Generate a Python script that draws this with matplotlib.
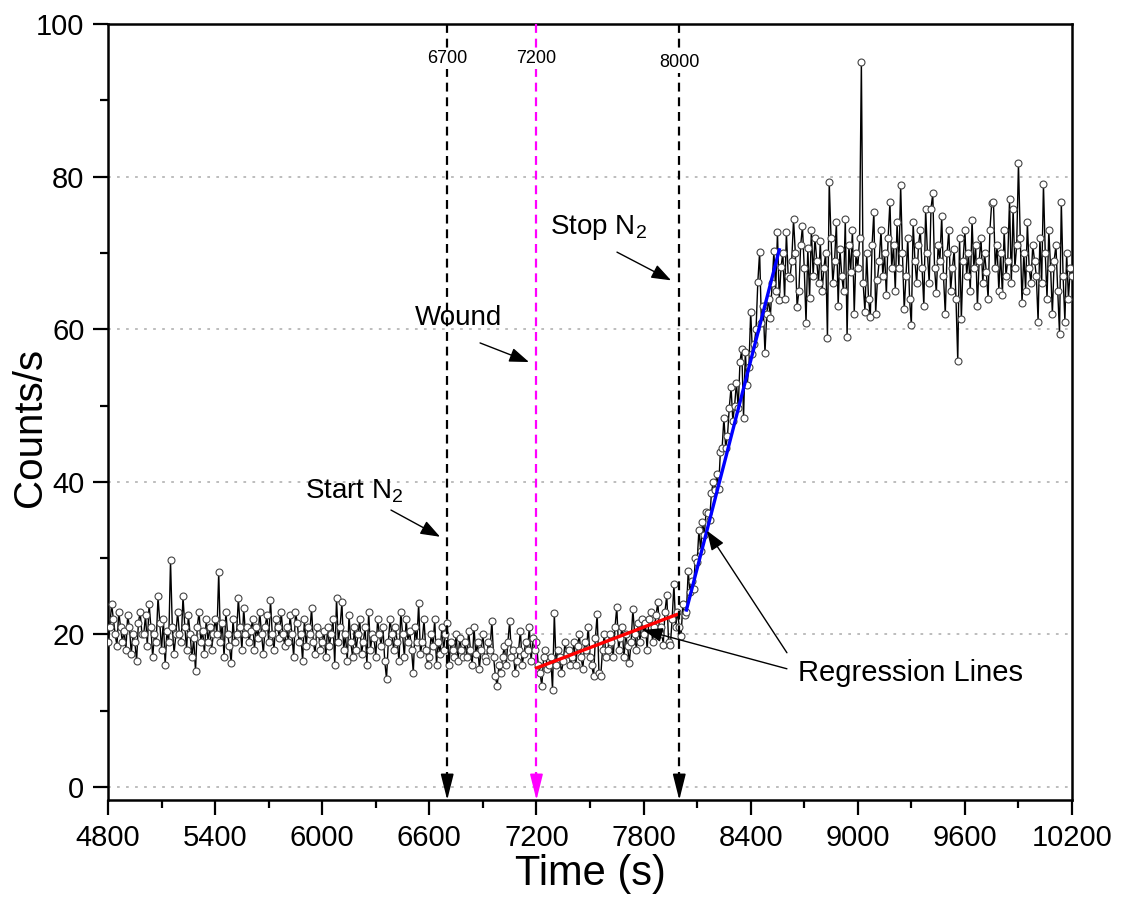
import numpy as np
import matplotlib
matplotlib.use("Agg")
import matplotlib.pyplot as plt
from matplotlib.patches import ArrowStyle

plt.rcParams["font.family"] = ["Liberation Sans", "DejaVu Sans"]
plt.rcParams["mathtext.fontset"] = "custom"
plt.rcParams["mathtext.rm"] = "Liberation Sans"

# Count rate sampled every 10 s, from 4800 s to 10200 s
t_start, t_step = 4800, 10
counts = [
    # 4800-4990
    19, 21, 24, 22, 20, 18.5, 23, 21, 19, 20.5, 18, 22.5, 21, 17.5, 20, 19, 16.5, 21.5, 23, 20,
    # 5000-5190
    20, 22.5, 18.5, 24, 21, 17, 20, 19, 25, 21.5, 18, 22, 16, 20.5, 19, 29.7, 21, 17.5, 20, 23,
    # 5200-5390
    20, 19, 25, 21, 18, 22.5, 20, 17, 19.5, 15.2, 21, 23, 19, 20.5, 17.5, 22, 19, 21, 18, 20,
    # 5400-5590
    22, 20, 28.2, 19, 21.5, 17, 23, 20, 18.5, 16.2, 22, 19, 20, 24.8, 21, 18, 23.5, 20, 21, 19,
    # 5600-5790
    20.5, 22, 18, 21, 19.5, 23, 20, 17.5, 21, 22.5, 19, 24.5, 20, 18, 22, 21, 19.5, 23, 20, 18.5,
    # 5800-5990
    21, 19, 22.5, 20, 17, 23, 21.5, 19, 20, 16.5, 22, 18.5, 21, 20, 23.5, 19, 17.5, 21, 20, 18,
    # 6000-6190
    19, 20.5, 17, 21, 18.5, 20, 22, 16, 24.8, 19, 21, 24.2, 18, 20, 16.5, 22.5, 19, 17, 21, 18,
    # 6200-6390
    20, 22, 17.5, 19, 21, 16, 23, 18, 20, 19.5, 17, 22, 20, 18.5, 21, 16.5, 14.2, 19, 22, 20,
    # 6400-6590
    18, 21, 19, 16.5, 23, 20, 17, 22, 19, 20.5, 18, 15, 21, 19, 24.1, 17.5, 19, 22, 18, 16,
    # 6600-6790
    17, 20, 18.5, 22, 16, 19, 17.5, 21, 18, 20, 21.5, 16, 19, 18, 17, 20, 16.5, 19.5, 18, 17,
    # 6800-6990
    19, 17, 20.5, 18, 16, 21, 17.5, 19, 15.5, 18, 20, 17, 16.5, 19, 18, 21.8, 17, 14.5, 13.2, 16,
    # 7000-7190
    15, 17, 18.5, 16, 19, 21.8, 17, 18, 15, 16.5, 18, 20.5, 16, 17.5, 19, 18, 21, 16.5, 19.5, 18,
    # 7200-7390
    19, 16, 15, 13.2, 17, 18, 15.5, 16, 17, 12.7, 22.8, 16, 18, 17, 15, 16.5, 19, 17.5, 18, 16,
    # 7400-7590
    17, 19, 16, 18.5, 20, 17, 15.5, 19, 18, 21, 17, 16, 14.5, 19.5, 22.7, 15, 14.5, 18, 20, 17,
    # 7600-7790
    18, 20, 19, 17, 21, 23.6, 18, 19.5, 21, 17, 20, 18.5, 16.3, 19, 23.3, 20, 18, 21.5, 19, 22,
    # 7800-7990
    20, 21.5, 18, 22, 23, 19, 21, 22.5, 24.3, 20, 21, 18.6, 23, 25.2, 19, 18.6, 22, 26.6, 21, 23,
    # 8000-8190
    21, 19.8, 24, 22.5, 23, 28.3, 25.5, 27, 26, 30, 29.5, 33.7, 31, 34.8, 33, 36, 35.9, 35, 38.5, 40,
    # 8200-8390
    38.9, 41, 39, 43.9, 44.4, 48.4, 44.4, 46, 49.7, 52.4, 48, 50, 53, 49.7, 55.7, 57.4, 48.4, 57, 52.7, 55,
    # 8400-8590
    62.3, 56.7, 58, 60, 66.2, 70.1, 60.8, 63, 56.9, 62, 64, 61.5, 66, 70.2, 65, 72.7, 63.8, 68.1, 70, 64,
    # 8600-8790
    72.7, 67, 66.7, 69, 74.4, 70, 62.9, 65, 71, 73.5, 68, 60.8, 70.6, 64.1, 73, 67, 72, 69, 66, 71.5,
    # 8800-8990
    65, 68, 70, 58.8, 79.3, 72, 66, 69, 74, 63, 70.5, 67, 65, 74.4, 59, 71, 67.5, 73, 62, 70,
    # 9000-9190
    68, 72, 95, 66, 62.3, 70, 64, 61.6, 71, 75.4, 62, 66.5, 69, 73, 67, 70, 64.5, 72, 76.7, 68,
    # 9200-9390
    71, 65, 74, 68, 78.9, 70, 62.6, 67, 72, 64, 60.5, 74, 69, 66, 71, 73, 68, 63, 75.8, 70,
    # 9400-9590
    66, 75.8, 77.8, 68, 64.7, 71, 69, 74.8, 67, 62, 70, 73, 65, 68, 70.5, 64, 55.8, 72, 61.3, 69,
    # 9600-9790
    73, 67, 70, 65, 74.3, 68, 71, 63, 69, 72, 66, 70, 67.5, 64, 73, 76.5, 76.7, 68, 71, 65,
    # 9800-9990
    70, 64.5, 73, 67, 69, 77, 66, 75.8, 68, 71, 81.8, 72, 63.4, 70, 65, 74, 68, 66, 71, 69,
    # 10000-10200
    67, 61, 72, 66, 79, 70, 64, 73, 68, 62, 69, 71, 65, 59.4, 76.7, 67, 61, 70, 64, 68,
    67,
]
times = t_start + t_step * np.arange(len(counts))

# Fitted regression segments (wound phase and N2-off phase)
reg_red_t = [7200, 7985]
reg_red_y = [15.6, 22.6]
reg_blue_t = [8040, 8560]
reg_blue_y = [23.2, 70.4]

# Event markers
event_times = [6700, 7200, 8000]
event_labels = ["6700", "7200", "8000"]
event_colors = ["black", "magenta", "black"]
event_label_y = [95.5, 95.5, 95.0]

x_ticks = [4800, 5400, 6000, 6600, 7200, 7800, 8400, 9000, 9600, 10200]
y_ticks = [0, 20, 40, 60, 80, 100]

fig = plt.figure(figsize=(11.23, 9.11), dpi=100)
ax = fig.add_axes([0.0962, 0.1218, 0.8584, 0.8519])

ax.set_xlim(4800, 10200)
ax.set_ylim(-1.7, 100)

# dotted horizontal grid
for gy in y_ticks[:-1]:
    ax.axhline(gy, color="#b8b8b8", lw=1.3, linestyle=(0, (1.5, 3.5)), zorder=1)

# data trace
ax.plot(times, counts, color="black", lw=1.0, marker="o", markersize=5.0,
        markerfacecolor="white", markeredgecolor="#444444", markeredgewidth=0.8,
        zorder=3)

# regression lines
ax.plot(reg_red_t, reg_red_y, color="red", lw=2.4, zorder=4)
ax.plot(reg_blue_t, reg_blue_y, color="blue", lw=2.4, zorder=4)

# event lines with arrows at the time axis
for et, lab, col, ly in zip(event_times, event_labels, event_colors, event_label_y):
    ax.plot([et, et], [100, 1.5], color=col, lw=1.6, linestyle=(0, (4, 2.6)), zorder=5)
    ax.annotate("", xy=(et, -1.7), xytext=(et, 1.8),
                arrowprops=dict(arrowstyle=ArrowStyle("-|>", head_length=0.8, head_width=0.2),
                                mutation_scale=20, color=col, lw=1.2, shrinkA=0, shrinkB=0),
                zorder=6)
    ax.text(et, ly, lab, ha="center", va="center", fontsize=13, color="black",
            bbox=dict(facecolor="white", edgecolor="none", pad=1.5), zorder=7)

arrow_kw = dict(arrowstyle=ArrowStyle("-|>", head_length=0.6, head_width=0.22),
                mutation_scale=20, color="black", lw=1.0, shrinkA=0, shrinkB=0)

ax.text(5903, 38.8, "Start N$_2$", fontsize=20, ha="left", va="center", zorder=8)
ax.annotate("", xy=(6660, 32.8), xytext=(6385, 36.3), arrowprops=arrow_kw, zorder=8)

ax.text(6520, 61.5, "Wound", fontsize=20, ha="left", va="center", zorder=8)
ax.annotate("", xy=(7158, 55.7), xytext=(6884, 58.2), arrowprops=arrow_kw, zorder=8)

ax.text(7276, 73.3, "Stop N$_2$", fontsize=20, ha="left", va="center", zorder=8)
ax.annotate("", xy=(7954, 66.4), xytext=(7651, 70.1), arrowprops=arrow_kw, zorder=8)

ax.text(8665, 14.9, "Regression Lines", fontsize=21, ha="left", va="center", zorder=8)
ax.annotate("", xy=(8155, 33.6), xytext=(8603, 17.6), arrowprops=arrow_kw, zorder=8)
ax.annotate("", xy=(7797, 20.6), xytext=(8603, 15.5), arrowprops=arrow_kw, zorder=8)

# axes styling
ax.set_xticks(x_ticks)
ax.set_yticks(y_ticks)
ax.set_xticks(np.arange(4800, 10201, 300), minor=True)
ax.set_yticks(np.arange(0, 101, 10), minor=True)
ax.tick_params(axis="both", which="major", direction="out", length=11, width=1.6,
               labelsize=21, pad=6)
ax.tick_params(axis="both", which="minor", direction="out", length=6, width=1.6)
ax.tick_params(top=False, right=False, which="both")
for sp in ax.spines.values():
    sp.set_linewidth(1.8)

ax.set_xlabel("Time (s)", fontsize=30, labelpad=2)
ax.set_ylabel("Counts/s", fontsize=29)
ax.yaxis.set_label_coords(-0.061, 0.48)

fig.savefig("out.png", dpi=100)
